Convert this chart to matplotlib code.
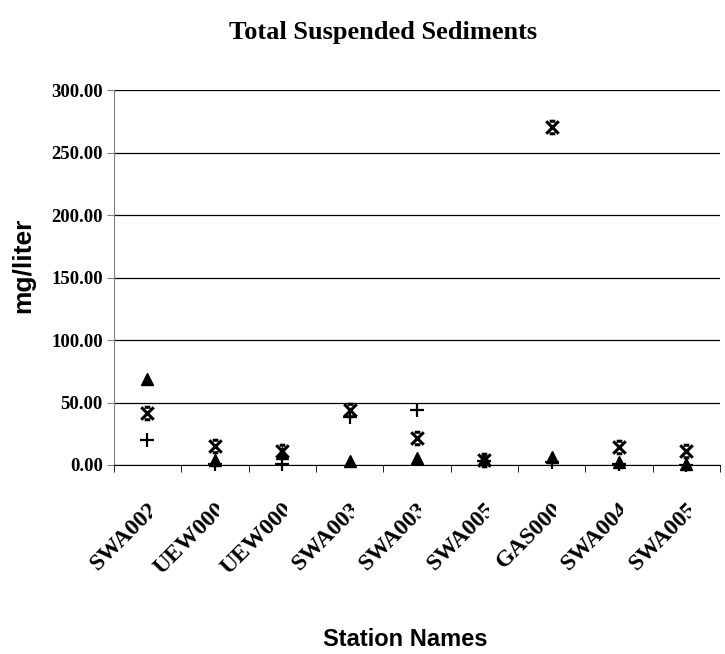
import numpy as np
from matplotlib import pyplot as plt
from matplotlib.path import Path
from matplotlib.transforms import Bbox

# station names (as shown, truncated by the chart)
stations = ['SWA002', 'UEW000', 'UEW000', 'SWA003', 'SWA003',
            'SWA005', 'GAS000', 'SWA004', 'SWA005']

# total suspended sediments, mg/liter, three sampling rounds
tss_plus = [20.0, 1.0, 0.5, 38.5, 44.0, 3.0, 2.0, 0.5, 0.0]
tss_star = [42.0, 15.5, 11.5, 44.0, 21.5, 4.0, 270.5, 14.5, 11.5]
tss_tri = [69.0, 4.0, 9.5, 3.5, 5.5, 4.5, 6.0, 2.5, 1.0]

yticks = [0, 50, 100, 150, 200, 250, 300]

# excel-like "star" marker: an X with short caps
star = Path([(-1, -1), (1, 1), (-1, 1), (1, -1),
             (-0.45, 1), (0.45, 1), (-0.45, -1), (0.45, -1)],
            [Path.MOVETO, Path.LINETO] * 4)

fig = plt.figure(figsize=(7.25, 6.54), dpi=100)
ax = fig.add_axes([0.157, 0.289, 0.836, 0.573])

x = np.arange(len(stations))
ax.plot(x, tss_plus, ls='none', marker='+', ms=10, mew=1.6, color='black', clip_on=False, zorder=3)
ax.plot(x, tss_star, ls='none', marker=star, ms=9, mew=2.2, color='black', clip_on=False, zorder=3)
ax.plot(x, tss_tri, ls='none', marker='^', ms=9, color='black', clip_on=False, zorder=3)

ax.set_xlim(-0.5, len(stations) - 0.5)
ax.set_ylim(0, 300)
ax.set_yticks(yticks)
ax.set_yticklabels(['%.2f' % v for v in yticks], family='Liberation Serif',
                   fontweight='bold', fontsize=13.5)
ax.yaxis.grid(True, color='black', lw=0.9)
ax.set_axisbelow(True)

ax.set_xticks(x)
ax.set_xticklabels(stations, rotation=45, ha='right', va='top', rotation_mode='anchor',
                   family='Liberation Serif', fontweight='bold', fontsize=17)
ax.set_xticks(np.arange(len(stations) + 1) - 0.5, minor=True)
ax.tick_params(axis='x', which='major', length=0, pad=24)
ax.tick_params(axis='x', which='minor', length=5, direction='out', color='black')
ax.tick_params(axis='y', length=5, direction='out', color='gray', pad=3)

for s in ['top', 'right']:
    ax.spines[s].set_visible(False)
ax.spines['left'].set_color('gray')
ax.spines['bottom'].set_color('black')

fig.text(23 / 725, 1 - 265 / 654, 'mg/liter', family='Liberation Sans', fontweight='bold',
         fontsize=19, rotation=90, ha='center', va='center')
fig.text(405 / 725, 1 - 640 / 654, 'Station Names', family='Liberation Sans',
         fontweight='bold', fontsize=17, ha='center', va='center')
fig.text(383 / 725, 1 - 33 / 654, 'Total Suspended Sediments', family='Liberation Serif',
         fontweight='bold', fontsize=19, ha='center', va='center')

# the category labels are cut off on the right, like in the original
fig.canvas.draw()
for i, lab in enumerate(ax.get_xticklabels()):
    cx = ax.transData.transform((i, 0))[0]
    lab.set_clip_box(Bbox.from_extents(0, 0, cx + 4.5, fig.bbox.height))
    lab.set_clip_on(True)

plt.savefig('out.png', dpi=100)
